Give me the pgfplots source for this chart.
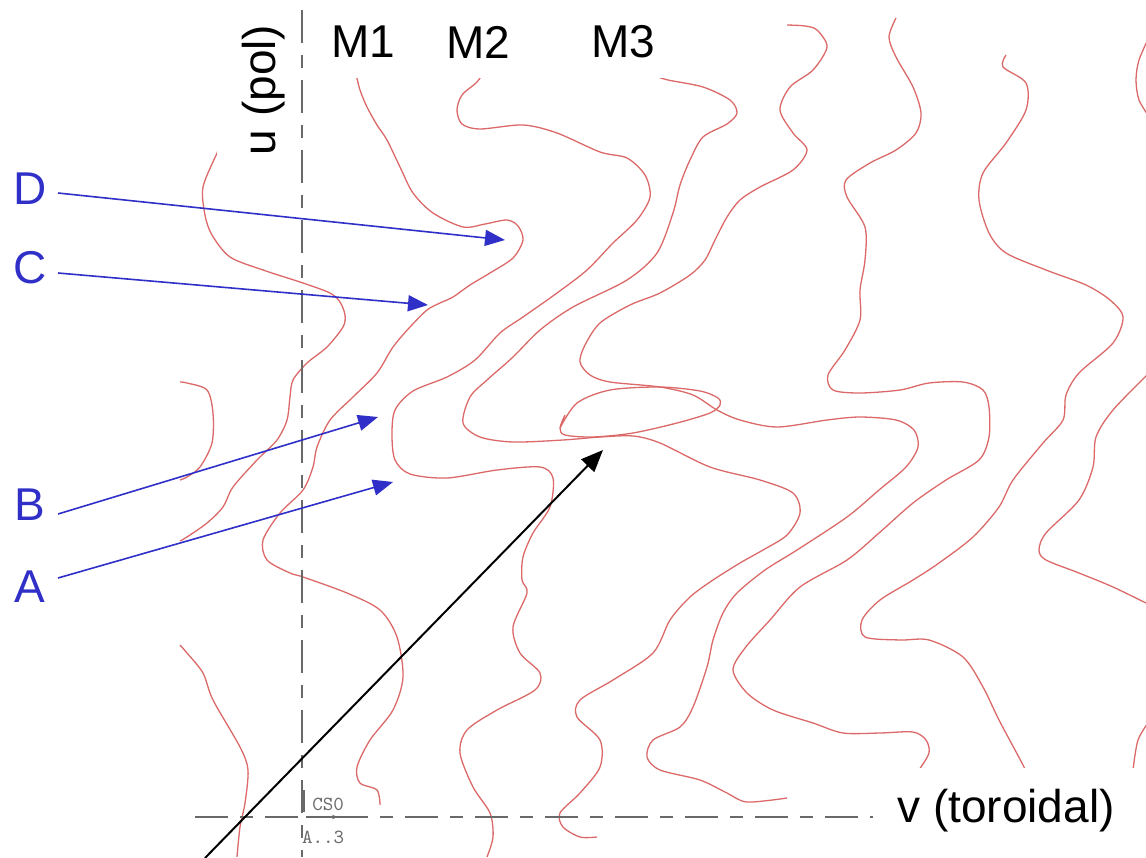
\documentclass[border=0pt]{standalone}
\usepackage{pgfplots}
\pgfplotsset{compat=1.18}
\usepackage{fontspec}
\setmainfont{Liberation Sans}
\usetikzlibrary{arrows.meta}
\definecolor{cred}{RGB}{220,105,105}
\definecolor{cblue}{RGB}{48,48,200}
\definecolor{cgray}{RGB}{105,105,105}
\begin{document}
\begin{tikzpicture}
\begin{axis}[
  width=573pt, height=428.5pt, scale only axis,
  xmin=0, xmax=1146, ymin=0, ymax=857, y dir=reverse,
  axis line style={draw=none}, xtick=\empty, ytick=\empty,
  clip=true,
  curve/.style={draw=cred, line width=0.65pt, no markers, smooth},
  dashax/.style={draw=cgray, line width=1.1pt, no markers, dash pattern=on 16.5pt off 6pt on 6.5pt off 6pt},
]
% left curves
\addplot[curve] coordinates {(220,145) (217,153) (203,187) (205,215) (212,235) (230,257) (263,270) (303,283) (330,293) (340,302) (345,315) (343,327) (327,347) (307,363) (293,380) (290,397) (287,420) (277,440) (257,460) (233,487) (223,507) (207,523) (187,537) (180,541)};
\addplot[curve] coordinates {(180,382) (187,383) (207,390) (213,413) (212,443) (200,467) (187,477) (180,480)};
\addplot[curve] coordinates {(180,645) (187,653) (203,673) (213,700) (240,747) (248,770) (245,803) (240,827) (237,857)};
% M1 (D/C)
\addplot[curve] coordinates {(355,70) (360,90) (367,107) (377,125) (387,140) (400,167) (413,193) (433,213) (463,227) (485,224) (507,220) (518,226) (523,240) (513,258) (490,273) (470,285) (453,297) (440,303) (427,310) (410,327) (393,347) (377,373) (353,397) (330,420) (317,447) (313,467) (303,490) (280,513) (263,540) (267,560) (290,573) (303,577) (347,593) (380,610) (397,637) (403,677) (393,710) (370,740) (357,767) (360,783) (377,790) (380,805)};
% M2 (B/A)
\addplot[curve] coordinates {(485,70) (477,82) (462,95) (457,110) (462,124) (480,129) (523,125) (557,133) (600,152) (627,158) (645,175) (650,197) (637,220) (613,243) (587,270) (557,293) (523,317) (500,333) (475,360) (447,377) (413,391) (395,410) (392,435) (395,460) (410,474) (447,478) (497,470) (540,467) (553,478) (550,507) (533,533) (523,557) (522,580) (527,593) (513,627) (520,653) (540,673) (535,690) (497,710) (467,730) (460,753) (473,787) (490,813) (493,837) (487,857)};
% M3
\addplot[curve] coordinates {(652,75) (668,80) (703,87) (730,100) (737,113) (727,124) (703,137) (690,160) (680,185) (673,213) (657,253) (627,280) (573,307) (540,330) (513,357) (487,380) (470,397) (463,423) (480,437) (513,442) (563,440) (600,437) (633,436) (660,443) (710,467) (760,480) (793,493) (800,513) (787,535) (763,550) (740,563) (713,580) (690,597) (670,620) (653,653) (613,680) (580,700) (577,717) (600,740) (600,767) (580,793) (560,813) (563,827) (580,837) (597,837)};
% loop
\addplot[curve] coordinates {(560,428) (577,403) (610,390) (660,387) (700,391) (718,398) (720,405) (710,413) (677,423) (633,433) (593,437) (565,435) (560,428) (565,415)};
% line 4
\addplot[curve] coordinates {(787,25) (805,26) (817,30) (827,47) (813,70) (790,87) (780,110) (793,133) (807,150) (793,170) (760,187) (740,200) (727,217) (715,240) (705,260) (690,275) (660,293) (630,305) (600,323) (585,345) (580,362) (590,375) (610,382) (660,387) (693,395) (717,410) (740,420) (777,427) (827,420) (860,417) (896,420) (914,430) (918,447) (906,467) (879,490) (847,517) (797,550) (765,570) (737,593) (723,613) (713,640) (707,667) (693,707) (680,727) (653,740) (647,757) (660,770) (700,780) (727,793) (747,802) (787,798)};
% R1
\addplot[curve] coordinates {(896,18) (889,37) (896,57) (913,87) (921,113) (916,133) (896,150) (870,163) (846,180) (847,197) (865,227) (865,260) (860,290) (860,320) (845,350) (828,375) (833,390) (860,393) (900,390) (929,383) (963,382) (983,390) (989,407) (989,437) (979,460) (946,480) (913,503) (879,533) (847,560) (800,587) (770,620) (745,648) (733,670) (747,693) (773,710) (813,723) (843,733) (880,733) (913,732) (926,740) (929,753) (919,770) (905,790)};
% R2
\addplot[curve] coordinates {(1006,55) (1003,67) (1026,83) (1026,110) (1006,143) (983,173) (979,200) (989,233) (1006,253) (1046,270) (1086,285) (1110,300) (1123,317) (1113,343) (1079,373) (1066,395) (1063,420) (1043,443) (1013,480) (999,507) (973,537) (939,563) (913,580) (880,600) (862,620) (865,637) (900,640) (929,640) (963,657) (983,687) (999,720) (1023,765) (1035,790)};
% R3, R4, R5
\addplot[curve] coordinates {(1150,35) (1139,60) (1136,80) (1139,100) (1150,118)};
\addplot[curve] coordinates {(1150,372) (1113,410) (1096,437) (1093,467) (1079,500) (1046,533) (1039,550) (1046,560) (1079,573) (1113,587) (1150,605)};
\addplot[curve] coordinates {(1150,720) (1138,740) (1133,770)};
% dashed axes
\addplot[dashax] coordinates {(302,10) (302,857)};
\addplot[dashax] coordinates {(195,817) (1146,817)};
% small coordinate marker
\addplot[draw=cgray, line width=0.6pt, no markers] coordinates {(304,790) (304,812)};
\addplot[draw=cgray, line width=0.6pt, no markers, -{Stealth[length=3pt]}] coordinates {(306,817) (338,817)};
% white label boxes
\node[fill=white, inner sep=0pt, minimum width=180pt, minimum height=39pt, anchor=north west] at (axis cs:315,0) {};
\node[fill=white, inner sep=0pt, minimum width=40.5pt, minimum height=77.5pt, anchor=north west] at (axis cs:217,0) {};
\node[fill=white, inner sep=0pt, minimum width=134.5pt, minimum height=42pt, anchor=north west] at (axis cs:873,768) {};
% labels
\node[font=\fontsize{23}{27}\selectfont, rotate=90] at (axis cs:264,90) {u (pol)};
\node[font=\fontsize{23}{27}\selectfont] at (axis cs:363,42) {M1};
\node[font=\fontsize{23}{27}\selectfont] at (axis cs:478,42) {M2};
\node[font=\fontsize{23}{27}\selectfont] at (axis cs:623,42) {M3};
\node[font=\fontsize{23}{27}\selectfont] at (axis cs:1006,811) {v (toroidal)};
\node[font=\fontsize{23}{27}\selectfont, text=cblue] at (axis cs:30,189) {D};
\node[font=\fontsize{23}{27}\selectfont, text=cblue] at (axis cs:30,268) {C};
\node[font=\fontsize{23}{27}\selectfont, text=cblue] at (axis cs:30,505) {B};
\node[font=\fontsize{23}{27}\selectfont, text=cblue] at (axis cs:30,587) {A};
\node[font=\ttfamily\fontsize{10}{11}\selectfont, text=cgray, inner sep=0pt] at (axis cs:328,804) {CS0};
\node[font=\ttfamily\fontsize{10}{11}\selectfont, text=cgray, inner sep=0pt] at (axis cs:323,837) {A..3};
% arrows
\addplot[draw=cblue, line width=0.8pt, no markers, -{Triangle[length=10pt,width=8pt]}] coordinates {(58,193) (505,240)};
\addplot[draw=cblue, line width=0.8pt, no markers, -{Triangle[length=10pt,width=8pt]}] coordinates {(58,273) (428,305)};
\addplot[draw=cblue, line width=0.8pt, no markers, -{Triangle[length=10pt,width=8pt]}] coordinates {(58,514) (378,417)};
\addplot[draw=cblue, line width=0.8pt, no markers, -{Triangle[length=10pt,width=8pt]}] coordinates {(58,578) (393,482)};
\addplot[draw=black, line width=1pt, no markers, -{Triangle[length=11pt,width=9pt]}] coordinates {(205,858) (603,450)};
\end{axis}
\pgfresetboundingbox
\path (current axis.south west) rectangle (current axis.north east);
\end{tikzpicture}
\end{document}
